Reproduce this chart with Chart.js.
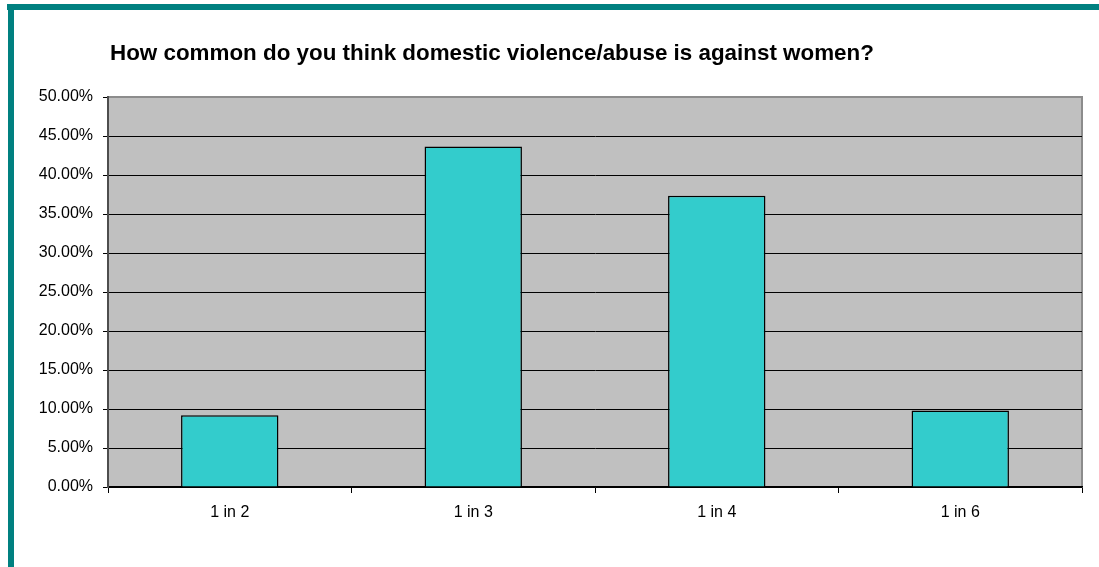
<!DOCTYPE html>
<html>
<head>
<meta charset="utf-8">
<script src="https://cdn.jsdelivr.net/npm/chart.js@4"></script>
<style>
    html, body { margin: 0; padding: 0; background: #fff; }
    #wrap { position: relative; width: 1099px; height: 567px; overflow: hidden; }
    #chart { position: absolute; left: 0; top: 0; }
    .rule-top { position: absolute; left: 7px; top: 4px; width: 1092px; height: 6px; background: #008080; }
    .rule-left { position: absolute; left: 8px; top: 4px; width: 6px; height: 563px; background: #008080; }
</style>
</head>
<body>
<div id="wrap">
    <canvas id="chart" width="1099" height="567"></canvas>
    <div class="rule-top"></div>
    <div class="rule-left"></div>
</div>
<script>
const chartTitle = 'How common do you think domestic violence/abuse is against women?';
const categories = ['1 in 2', '1 in 3', '1 in 4', '1 in 6'];
const shares = [9.2, 43.65, 37.35, 9.8];
const yMax = 50;
const yStep = 5;

Chart.defaults.font.family = "'Liberation Sans', Arial, sans-serif";
Chart.defaults.font.size = 16;
Chart.defaults.color = '#000';

// grey plot area, thin frame on top and right, plus the title
const plotFrame = {
    id: 'plotFrame',
    beforeDraw(chart) {
        const { ctx, chartArea: a } = chart;
        ctx.save();
        ctx.fillStyle = '#c0c0c0';
        ctx.fillRect(a.left, a.top, a.right - a.left, a.bottom - a.top);
        ctx.strokeStyle = '#8c8c8c';
        ctx.lineWidth = 2;
        ctx.beginPath();
        ctx.moveTo(a.left, a.top);
        ctx.lineTo(a.right, a.top);
        ctx.lineTo(a.right, a.bottom);
        ctx.stroke();
        ctx.restore();
    },
    afterDraw(chart) {
        const { ctx, chartArea: a } = chart;
        ctx.save();
        ctx.font = "bold 22.4px 'Liberation Sans', Arial, sans-serif";
        ctx.fillStyle = '#000';
        ctx.textBaseline = 'middle';
        ctx.fillText(chartTitle, a.left + 2, 54);
        ctx.restore();
    }
};

new Chart(document.getElementById('chart'), {
    type: 'bar',
    data: {
        labels: categories,
        datasets: [{
            data: shares,
            backgroundColor: '#33cccc',
            borderColor: '#000',
            borderWidth: 1.5,
            barPercentage: 0.4,
            categoryPercentage: 1
        }]
    },
    options: {
        responsive: false,
        animation: false,
        layout: { padding: { top: 97, right: 17, left: 0, bottom: 0 } },
        plugins: {
            legend: { display: false },
            tooltip: { enabled: false },
            title: { display: false }
        },
        scales: {
            x: {
                afterFit(scale) { scale.height = 80; },
                grid: {
                    offset: true,
                    drawOnChartArea: false,
                    tickLength: 6,
                    tickColor: '#000'
                },
                border: { color: '#000', width: 1.5 },
                ticks: { padding: 10, color: '#000' }
            },
            y: {
                min: 0,
                max: yMax,
                afterFit(scale) { scale.width = 108; },
                ticks: {
                    stepSize: yStep,
                    padding: 10,
                    color: '#000',
                    callback: v => v.toFixed(2) + '%'
                },
                grid: {
                    color: ctx => ctx.tick && ctx.tick.value === yMax ? 'rgba(0,0,0,0)' : '#000',
                    lineWidth: 1,
                    tickLength: 5,
                    tickColor: '#000'
                },
                border: { color: '#4d4d4d', width: 2 }
            }
        }
    },
    plugins: [plotFrame]
});
</script>
</body>
</html>
